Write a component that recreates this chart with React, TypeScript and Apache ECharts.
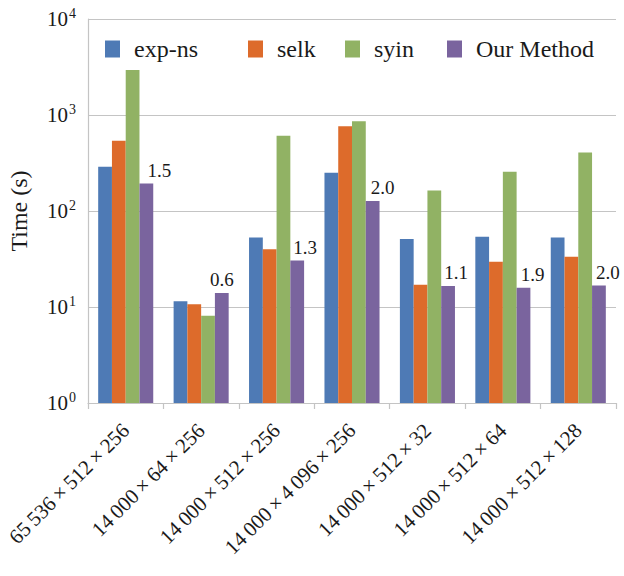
import React, { useEffect, useRef } from 'react';
import * as echarts from 'echarts';

// Problem sizes (N × M × K)
const categories = [
  '65\u2009536\u2009×\u2009512\u2009×\u2009256',
  '14\u2009000\u2009×\u200964\u2009×\u2009256',
  '14\u2009000\u2009×\u2009512\u2009×\u2009256',
  '14\u2009000\u2009×\u20094\u2009096\u2009×\u2009256',
  '14\u2009000\u2009×\u2009512\u2009×\u200932',
  '14\u2009000\u2009×\u2009512\u2009×\u200964',
  '14\u2009000\u2009×\u2009512\u2009×\u2009128',
];

// Run times in seconds
const expNs = [289, 11.5, 53, 250, 51, 54, 53];
const selk = [538, 10.7, 40, 765, 17.1, 29.6, 33.4];
const syin = [2940, 8.1, 607, 862, 164, 257, 407];
const ourMethod = [193, 14.0, 30.5, 127, 16.5, 15.9, 16.7];

// Speed-up annotations shown above "Our Method"
const speedups = ['1.5', '0.6', '1.3', '2.0', '1.1', '1.9', '2.0'];

// Log-axis decades
const yMin = 1;
const yMax = 10000;

const seriesNames = ['exp-ns', 'selk', 'syin', 'Our Method'];
const colors = ['#4e7ab5', '#dd6b2b', '#91b264', '#7a649e'];

// Horizontal nudge of each speed-up label (px)
const labelShift = [13, 0, 8, 10, 8, 9, 9];

const FONT = "'Liberation Serif', 'Times New Roman', serif";
const INK = '#1a1a1a';
const GRID = '#c4c4c4';

export default function App() {
  const ref = useRef<HTMLDivElement>(null);

  useEffect(() => {
    if (!ref.current) return;
    const chart = echarts.init(ref.current, undefined, { renderer: 'svg' });

    const legendLefts = [105, 248, 345, 447];
    const legends = seriesNames.map((name, i) => ({
      data: [name],
      left: legendLefts[i],
      top: 37,
      padding: 0,
      icon: 'rect',
      itemWidth: 15,
      itemHeight: 17,
      textStyle: { fontFamily: FONT, fontSize: 24, color: INK, padding: [0, 0, 0, 9] },
    }));

    const values = [expNs, selk, syin, ourMethod];

    chart.setOption({
      animation: false,
      backgroundColor: '#ffffff',
      color: colors,
      textStyle: { fontFamily: FONT },
      legend: legends,
      grid: {
        left: 88,
        right: 8,
        top: 19,
        bottom: 173,
        containLabel: false,
        outerBoundsMode: 'none',
      },
      xAxis: {
        type: 'category',
        data: categories,
        axisLine: { show: true, lineStyle: { color: GRID, width: 1.2 } },
        axisTick: { show: true, length: 6, lineStyle: { color: GRID, width: 1.2 } },
        axisLabel: {
          interval: 0,
          rotate: 45,
          margin: 24,
          fontFamily: FONT,
          fontSize: 21,
          color: INK,
        },
      },
      yAxis: {
        type: 'log',
        logBase: 10,
        min: yMin,
        max: yMax,
        name: 'Time (s)',
        nameLocation: 'middle',
        nameGap: 57,
        nameTextStyle: { fontFamily: FONT, fontSize: 24, color: INK },
        axisLine: { show: true, lineStyle: { color: GRID, width: 1.2 } },
        axisTick: { show: false },
        splitLine: { show: true, lineStyle: { color: GRID, width: 1.2 } },
        axisLabel: {
          margin: 12,
          formatter: (v: number) => `{b|10}{s|${Math.round(Math.log10(v))}}`,
          rich: {
            b: { fontFamily: FONT, fontSize: 21, color: INK },
            s: { fontFamily: FONT, fontSize: 14, color: INK, padding: [0, 0, 11, 1] },
          },
        },
      },
      series: seriesNames.map((name, si) => ({
        name,
        type: 'bar',
        barGap: '0%',
        barCategoryGap: '27%',
        itemStyle: { color: colors[si] },
        data:
          si === 3
            ? values[si].map((v, i) => ({ value: v, label: { offset: [labelShift[i], 0] } }))
            : values[si],
        label:
          si === 3
            ? {
                show: true,
                position: 'top',
                distance: 4,
                fontFamily: FONT,
                fontSize: 19,
                color: INK,
                formatter: (p: any) => speedups[p.dataIndex],
              }
            : { show: false },
      })),
    });

    return () => chart.dispose();
  }, []);

  return (
    <div
      ref={ref}
      style={{ position: 'fixed', left: 0, top: 0, width: 624, height: 576, background: '#fff' }}
    />
  );
}
